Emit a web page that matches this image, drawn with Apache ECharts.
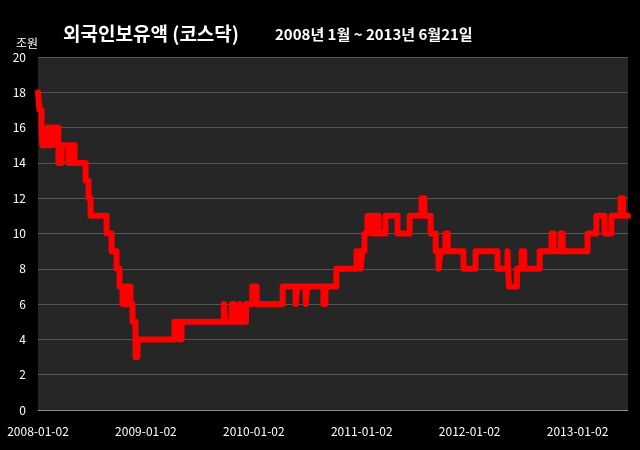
<!DOCTYPE html>
<html><head><meta charset="utf-8">
<script src="https://cdn.jsdelivr.net/npm/echarts@6/dist/echarts.min.js"></script>
<style>html,body{margin:0;padding:0;background:#000;}#c{width:640px;height:450px;}</style>
</head><body><div id="c"></div>
<script>
// Change points: date from which the rounded holding (조원) applies
const changeDates = [
 '2008-01-02','2008-01-07','2008-01-14','2008-01-17','2008-02-03','2008-02-10','2008-02-20','2008-03-11','2008-03-22','2008-04-14',
 '2008-04-21','2008-05-05','2008-06-11','2008-06-21','2008-06-28','2008-08-21','2008-09-07','2008-09-24','2008-10-04','2008-10-14',
 '2008-10-21','2008-10-28','2008-11-03','2008-11-10','2008-11-17','2008-11-27','2008-12-04','2009-04-08','2009-04-25','2009-05-02',
 '2009-09-22','2009-09-27','2009-10-19','2009-10-26','2009-11-15','2009-11-20','2009-12-06','2009-12-27','2010-01-11','2010-04-09',
 '2010-05-23','2010-05-29','2010-06-26','2010-07-02','2010-08-25','2010-09-01','2010-10-08','2010-12-15','2010-12-29','2011-01-04',
 '2011-01-11','2011-01-21','2011-02-07','2011-02-21','2011-02-28','2011-03-23','2011-05-03','2011-06-13','2011-07-23','2011-08-02',
 '2011-08-23','2011-09-09','2011-09-19','2011-09-25','2011-10-12','2011-10-20','2011-12-12','2012-01-22','2012-04-05','2012-05-09',
 '2012-05-14','2012-06-10','2012-06-26','2012-07-05','2012-08-26','2012-10-05','2012-10-12','2012-11-05','2012-11-12','2013-02-04',
 '2013-03-06','2013-04-03','2013-04-26','2013-05-27','2013-06-04','2013-06-21'
];
const holdings = [
 18,17,16,15,16,15,16,14,15,14,
 15,14,13,12,11,10,9,8,7,6,
 7,6,7,6,5,3,4,5,4,5,
 6,5,6,5,6,5,6,7,6,7,
 6,7,6,7,6,7,8,9,8,9,
 10,11,10,11,10,11,10,11,12,11,
 10,9,8,9,10,9,8,9,8,9,
 7,8,9,8,9,10,9,10,9,10,
 11,10,11,12,11,11
];
const xTickLabels = ['2008-01-02','2009-01-02','2010-01-02','2011-01-02','2012-01-02','2013-01-02'];
const yTickLabels = ['0','2','4','6','8','10','12','14','16','18','20'];

const startDate = Date.UTC(2008,0,2);
function dayOffset(s){ const p=s.split('-').map(Number); return (Date.UTC(p[0],p[1]-1,p[2])-startDate)/86400000; }
const seriesData = changeDates.map((d,i)=>[dayOffset(d), holdings[i]]);
const yearDays = 365.25;

const chart = echarts.init(document.getElementById('c'), null, {renderer:'canvas'});
const font = '"Noto Sans CJK KR", "Noto Sans", sans-serif';
chart.setOption({
  backgroundColor:'#000000',
  animation:false,
  textStyle:{fontFamily:font},
  title:[
    {text:'외국인보유액 (코스닥)', left:58, top:19, textStyle:{color:'#ffffff', fontSize:19, fontWeight:'bold', fontFamily:font}},
    {text:'2008년 1월 ~ 2013년 6월21일', left:270, top:22, textStyle:{color:'#ffffff', fontSize:15, fontWeight:'bold', fontFamily:font}}
  ],
  grid:{left:38, right:12, top:57, bottom:40, show:true, backgroundColor:'#262626', borderWidth:0},
  xAxis:{
    type:'value', min:0, max:dayOffset('2013-06-21'), interval:yearDays,
    axisLine:{show:true, lineStyle:{color:'#8c8c8c', width:1}},
    axisTick:{show:false},
    splitLine:{show:false},
    axisLabel:{color:'#ffffff', fontSize:12, margin:15, fontFamily:font, showMaxLabel:false,
      formatter:function(v){ const i=Math.round(v/yearDays); return Math.abs(v-i*yearDays)<1 ? (xTickLabels[i]||'') : ''; }}
  },
  yAxis:{
    type:'value', min:0, max:20, interval:2,
    name:'조원', nameLocation:'end', nameGap:8,
    nameTextStyle:{color:'#ffffff', fontSize:12, align:'right', fontFamily:font},
    axisLine:{show:false}, axisTick:{show:false},
    splitLine:{show:true, lineStyle:{color:'#555555', width:1}},
    axisLabel:{color:'#ffffff', fontSize:12, margin:12, fontFamily:font,
      formatter:function(v){ return yTickLabels[Math.round(v/2)]; }}
  },
  series:[{
    type:'line', step:'end', data:seriesData, showSymbol:false, symbol:'none',
    lineStyle:{color:'#ff0000', width:6, cap:'round', join:'round'},
    z:5
  }]
});
</script></body></html>
